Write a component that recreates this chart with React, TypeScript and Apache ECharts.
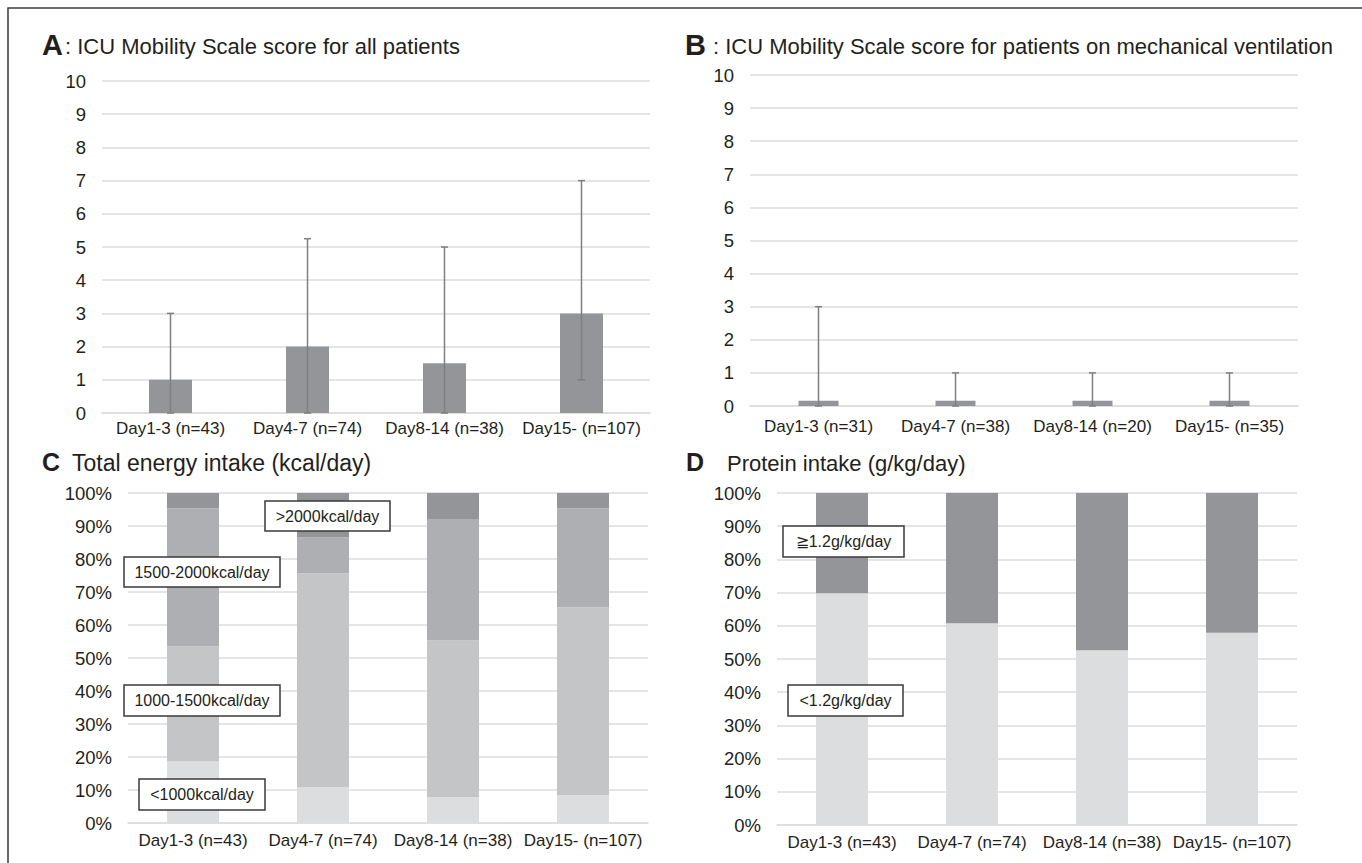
import React, { useEffect, useRef } from "react";
import * as echarts from "echarts";

// ---- Data ----
const catsA = ["Day1-3 (n=43)", "Day4-7 (n=74)", "Day8-14 (n=38)", "Day15- (n=107)"];
const medianA = [1, 2, 1.5, 3];
const lowA = [0, 0, 0, 1];
const highA = [3, 5.25, 5, 7];

const catsB = ["Day1-3 (n=31)", "Day4-7 (n=38)", "Day8-14 (n=20)", "Day15- (n=35)"];
const medianB = [0.16, 0.16, 0.16, 0.16];
const lowB = [0, 0, 0, 0];
const highB = [3, 1, 1, 1];

const catsC = ["Day1-3 (n=43)", "Day4-7 (n=74)", "Day8-14 (n=38)", "Day15- (n=107)"];
const energyLt1000 = [18.6, 10.8, 7.9, 8.4];
const energy1000to1500 = [34.9, 64.9, 47.4, 57.0];
const energy1500to2000 = [41.9, 10.8, 36.8, 29.9];
const energyGt2000 = [4.6, 13.5, 7.9, 4.7];

const catsD = ["Day1-3 (n=43)", "Day4-7 (n=74)", "Day8-14 (n=38)", "Day15- (n=107)"];
const proteinLt12 = [69.8, 60.8, 52.6, 57.9];
const proteinGe12 = [30.2, 39.2, 47.4, 42.1];

const scoreTicks = [0, 10, 1];
const pctTicks = [0, 100, 10];

const FONT = "'Liberation Sans', Arial, sans-serif";
const TXT = "#231f20";
const GRID = "#dcdcdc";
const ERR = "#7f7f7f";

function errSeries(xi: number, low: number[], high: number[]) {
  return {
    type: "custom",
    xAxisIndex: xi,
    yAxisIndex: xi,
    z: 5,
    encode: { x: 0, y: [1, 2] },
    data: low.map((l, i) => [i, l, high[i]]),
    renderItem: (params: any, api: any) => {
      const x = api.value(0);
      const pLo = api.coord([x, api.value(1)]);
      const pHi = api.coord([x, api.value(2)]);
      const hw = 3.5;
      const st = { stroke: ERR, lineWidth: 1.5 };
      return {
        type: "group",
        children: [
          { type: "line", shape: { x1: pLo[0], y1: pLo[1], x2: pHi[0], y2: pHi[1] }, style: st },
          { type: "line", shape: { x1: pHi[0] - hw, y1: pHi[1], x2: pHi[0] + hw, y2: pHi[1] }, style: st },
          { type: "line", shape: { x1: pLo[0] - hw, y1: pLo[1], x2: pLo[0] + hw, y2: pLo[1] }, style: st },
        ],
      };
    },
  };
}

function xAx(gi: number, data: string[], margin: number) {
  return {
    type: "category",
    gridIndex: gi,
    data,
    axisTick: { show: false },
    axisLine: { show: true, lineStyle: { color: GRID, width: 1.5 } },
    axisLabel: { color: TXT, fontSize: 17, fontFamily: FONT, margin, interval: 0 },
  };
}

function yAx(gi: number, ticks: number[], pct: boolean) {
  return {
    type: "value",
    gridIndex: gi,
    min: ticks[0],
    max: ticks[1],
    interval: ticks[2],
    axisLine: { show: false },
    axisTick: { show: false },
    splitLine: { show: true, lineStyle: { color: GRID, width: 1.5 } },
    axisLabel: {
      color: TXT,
      fontSize: 18.5,
      fontFamily: FONT,
      margin: 16,
      formatter: pct ? (v: number) => v + "%" : undefined,
    },
  };
}

function labelBox(x: number, y: number, w: number, h: number, text: string) {
  return {
    type: "group",
    z: 100,
    children: [
      {
        type: "rect",
        z: 100,
        shape: { x, y, width: w, height: h },
        style: { fill: "#ffffff", stroke: "#3a3a3a", lineWidth: 1.5 },
      },
      {
        type: "text",
        z: 101,
        x: x + w / 2,
        y: y + h / 2,
        style: {
          text,
          fill: TXT,
          fontSize: 16,
          fontFamily: FONT,
          textAlign: "center",
          textVerticalAlign: "middle",
        },
      },
    ],
  };
}

function heading(x: number, y: number, letter: string, lsize: number, gap: number, text: string, tsize: number) {
  return [
    {
      type: "text",
      x,
      y,
      style: { text: letter, fill: TXT, fontSize: lsize, fontWeight: "bold", fontFamily: FONT, textVerticalAlign: "middle" },
    },
    {
      type: "text",
      x: x + gap,
      y: y + 1,
      style: { text, fill: TXT, fontSize: tsize, fontFamily: FONT, textVerticalAlign: "middle" },
    },
  ];
}

export default function App() {
  const ref = useRef<HTMLDivElement>(null);
  useEffect(() => {
    if (!ref.current) return;
    const chart = echarts.init(ref.current, null, { renderer: "svg" });
    const option: any = {
      animation: false,
      backgroundColor: "#ffffff",
      grid: [
        { left: 102, top: 81, width: 548, height: 332 },
        { left: 750, top: 75, width: 548, height: 331 },
        { left: 128, top: 493, width: 520, height: 330 },
        { left: 777, top: 493, width: 520, height: 332 },
      ],
      xAxis: [xAx(0, catsA, 7), xAx(1, catsB, 12), xAx(2, catsC, 9), xAx(3, catsD, 9)],
      yAxis: [yAx(0, scoreTicks, false), yAx(1, scoreTicks, false), yAx(2, pctTicks, true), yAx(3, pctTicks, true)],
      series: [
        { type: "bar", xAxisIndex: 0, yAxisIndex: 0, data: medianA, barWidth: 43, itemStyle: { color: "#939598" } },
        errSeries(0, lowA, highA),
        { type: "bar", xAxisIndex: 1, yAxisIndex: 1, data: medianB, barWidth: 40, itemStyle: { color: "#939598" } },
        errSeries(1, lowB, highB),
        { type: "bar", name: "<1000kcal/day", stack: "c", xAxisIndex: 2, yAxisIndex: 2, data: energyLt1000, barWidth: 52, itemStyle: { color: "#dcdddf" } },
        { type: "bar", name: "1000-1500kcal/day", stack: "c", xAxisIndex: 2, yAxisIndex: 2, data: energy1000to1500, barWidth: 52, itemStyle: { color: "#c4c5c7" } },
        { type: "bar", name: "1500-2000kcal/day", stack: "c", xAxisIndex: 2, yAxisIndex: 2, data: energy1500to2000, barWidth: 52, itemStyle: { color: "#aeafb2" } },
        { type: "bar", name: ">2000kcal/day", stack: "c", xAxisIndex: 2, yAxisIndex: 2, data: energyGt2000, barWidth: 52, itemStyle: { color: "#939598" } },
        { type: "bar", name: "<1.2g/kg/day", stack: "d", xAxisIndex: 3, yAxisIndex: 3, data: proteinLt12, barWidth: 52, itemStyle: { color: "#dcdddf" } },
        { type: "bar", name: "≧1.2g/kg/day", stack: "d", xAxisIndex: 3, yAxisIndex: 3, data: proteinGe12, barWidth: 52, itemStyle: { color: "#939598" } },
      ],
      graphic: [
        {
          type: "rect",
          z: 200,
          shape: { x: 8, y: 8, width: 1400, height: 900 },
          style: { fill: "none", stroke: "#3c3c3c", lineWidth: 1.5 },
        },
        ...heading(42, 45, "A", 29, 23, ": ICU Mobility Scale score for all patients", 22),
        ...heading(685, 45, "B", 29, 28, ": ICU Mobility Scale score for patients on mechanical ventilation", 22),
        ...heading(42, 462, "C", 25, 30, "Total energy intake (kcal/day)", 23),
        ...heading(686, 462, "D", 25, 41, "Protein intake (g/kg/day)", 22),
        labelBox(265, 501, 125, 30, ">2000kcal/day"),
        labelBox(124, 557, 156, 30, "1500-2000kcal/day"),
        labelBox(124, 685, 156, 31, "1000-1500kcal/day"),
        labelBox(139, 779, 126, 31, "<1000kcal/day"),
        labelBox(783, 526, 121, 31, "≧1.2g/kg/day"),
        labelBox(788, 685, 115, 31, "<1.2g/kg/day"),
      ],
    };
    chart.setOption(option);
    return () => chart.dispose();
  }, []);
  return (
    <div
      ref={ref}
      style={{ position: "absolute", left: 0, top: 0, width: 1362, height: 863, background: "#fff" }}
    />
  );
}
